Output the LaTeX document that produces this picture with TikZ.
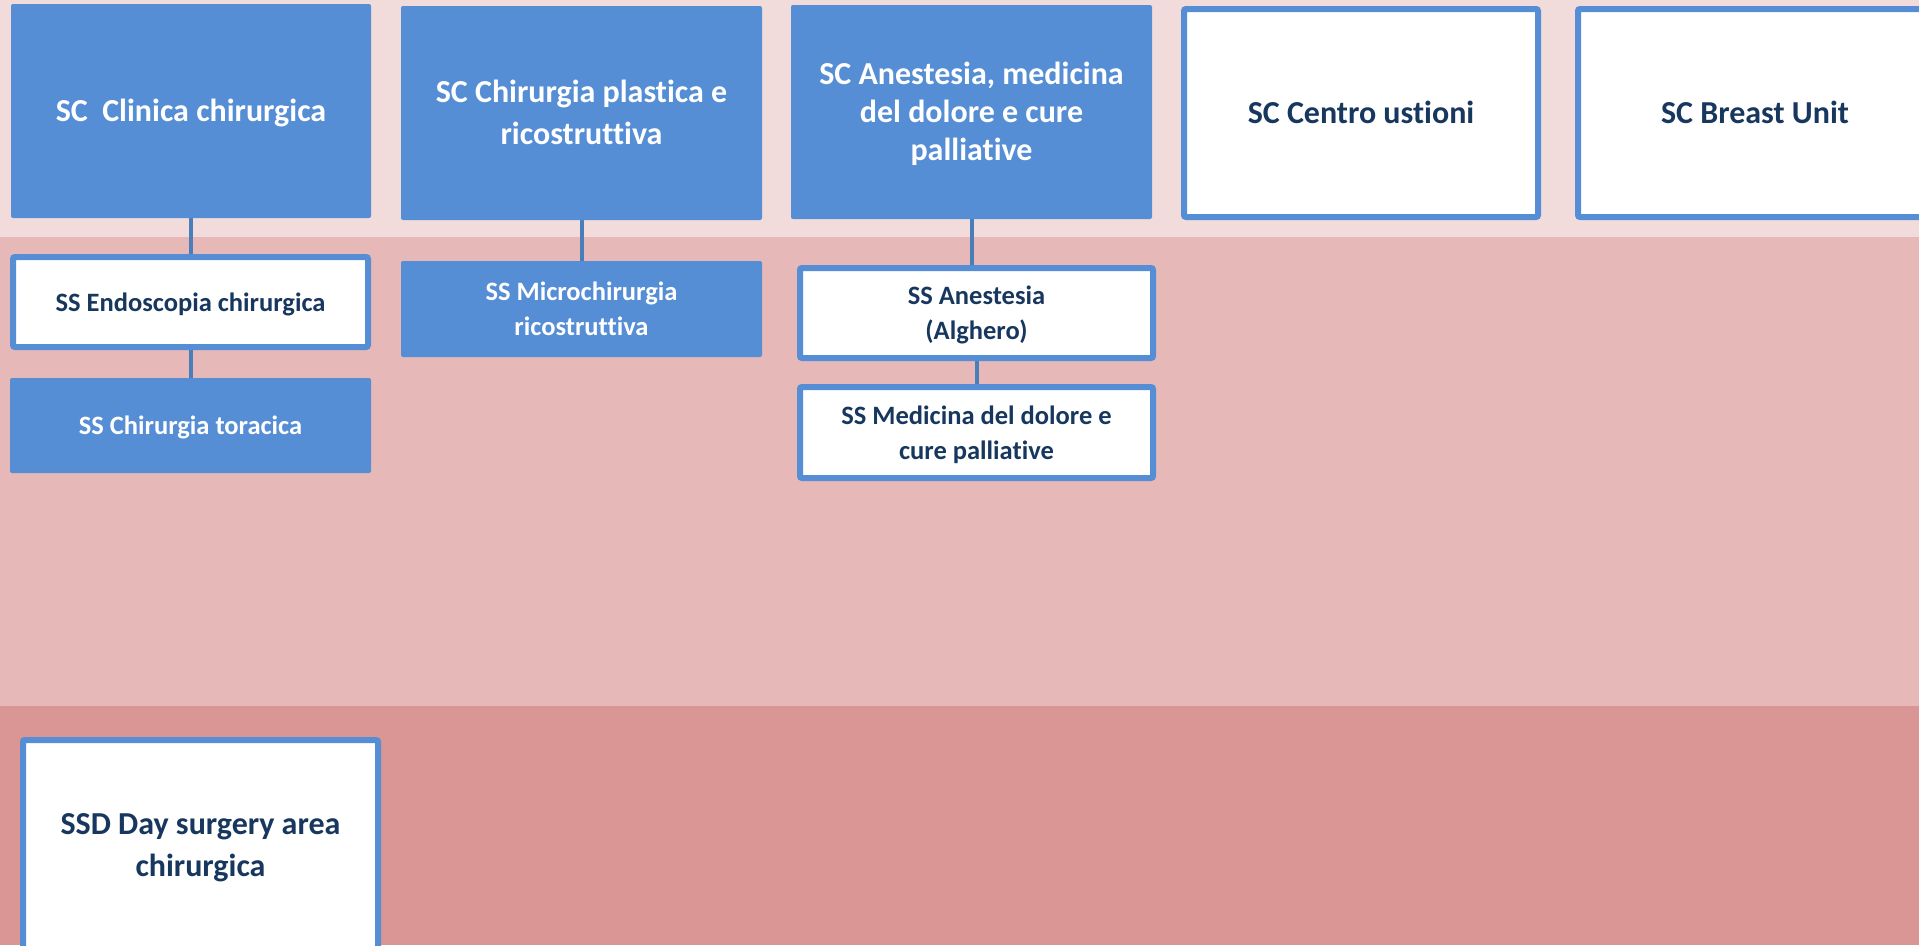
\documentclass[tikz,border=0pt]{standalone}
\usepackage{fontspec}
\setmainfont{Carlito}[Ligatures=NoCommon]
\definecolor{boxblue}{HTML}{558ED5}
\definecolor{darktext}{HTML}{17375E}
\definecolor{linkblue}{HTML}{4A7EBB}
\definecolor{bandA}{HTML}{F2DCDB}
\definecolor{bandB}{HTML}{E6B9B8}
\definecolor{bandC}{HTML}{D99694}
\newcommand\BigSt{\rule[-10pt]{0pt}{41pt}}
\newcommand\SmSt{\rule[-8pt]{0pt}{34pt}}
\pgfdeclarelayer{bg}
\pgfdeclarelayer{links}
\pgfsetlayers{bg,links,main}
\tikzset{
  bigfont/.style={font=\fontsize{32}{38}\selectfont\bfseries},
  smallfont/.style={font=\fontsize{26.5}{31.5}\selectfont\bfseries},
  bluebox/.style={fill=boxblue, rounded corners=2pt, text=white, inner sep=0pt, align=center, anchor=center},
  whitebox/.style={fill=white, draw=boxblue, line width=6pt, rounded corners=2pt, text=darktext, inner sep=0pt, align=center, anchor=center},
  link/.style={draw=linkblue, line width=4pt}
}
\begin{document}
\begin{tikzpicture}[x=1pt,y=-1pt]
\useasboundingbox (0,0) rectangle (1919,945);
\clip (0,0) rectangle (1919,945);
\begin{pgfonlayer}{bg}
  \fill[bandA] (0,0) rectangle (1919,237);
  \fill[bandB] (0,237) rectangle (1919,706);
  \fill[bandC] (0,706) rectangle (1919,945);
\end{pgfonlayer}
% top row
\node[bluebox, bigfont, minimum width=360pt, minimum height=214pt] (b1) at (191,111) {\BigSt SC\ \ Clinica chirurgica\BigSt};
\node[bluebox, bigfont, minimum width=361pt, minimum height=214pt] (b2) at (581.5,113) {\BigSt SC Chirurgia plastica e\\ricostruttiva\BigSt};
\node[bluebox, bigfont, minimum width=361pt, minimum height=214pt] (b3) at (971.5,112) {\BigSt SC Anestesia, medicina\\del dolore e cure\\palliative\BigSt};
\node[whitebox, bigfont, minimum width=354pt, minimum height=208pt] (b4) at (1361,113) {\BigSt SC Centro ustioni\BigSt};
\node[whitebox, bigfont, minimum width=354pt, minimum height=208pt] (b5) at (1755,113) {\BigSt SC Breast Unit\BigSt};
% second level
\node[whitebox, smallfont, minimum width=355pt, minimum height=90pt] (endo) at (190.5,302) {\SmSt SS Endoscopia chirurgica\SmSt};
\node[bluebox, smallfont, minimum width=361pt, minimum height=95pt] (tora) at (190.5,425.5) {\SmSt SS Chirurgia toracica\SmSt};
\node[bluebox, smallfont, minimum width=361pt, minimum height=96pt] (micro) at (581.5,309) {\SmSt SS Microchirurgia\\ricostruttiva\SmSt};
\node[whitebox, smallfont, minimum width=353pt, minimum height=90pt] (anes) at (976.5,313) {\SmSt SS Anestesia\\(Alghero)\SmSt};
\node[whitebox, smallfont, minimum width=353pt, minimum height=91pt] (medic) at (976.5,432.5) {\SmSt SS Medicina del dolore e\\cure palliative\SmSt};
% bottom band
\node[whitebox, bigfont, minimum width=355pt, minimum height=210pt] (ssd) at (200.5,845) {\BigSt SSD Day surgery area\\chirurgica\BigSt};
% connectors
\begin{pgfonlayer}{links}
  \draw[link] (b1.south) -- (b1.south |- endo.north);
  \draw[link] (endo.south) -- (endo.south |- tora.north);
  \draw[link] (b2.south) -- (b2.south |- micro.north);
  \draw[link] (b3.south) -- (b3.south |- anes.north);
  \draw[link] (anes.south) -- (anes.south |- medic.north);
\end{pgfonlayer}
\end{tikzpicture}
\end{document}
